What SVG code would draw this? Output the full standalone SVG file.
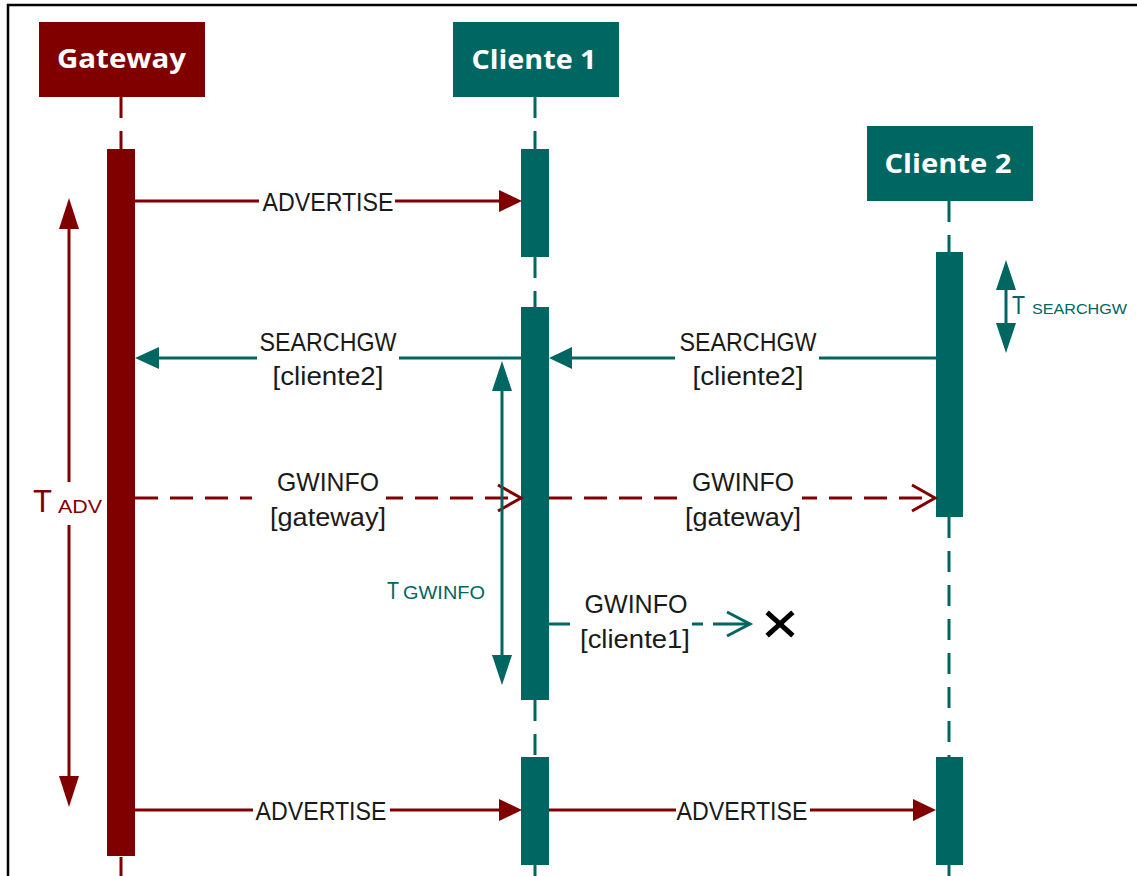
<svg xmlns="http://www.w3.org/2000/svg" width="1137" height="876" viewBox="0 0 1137 876">
  <style>
    .frame { fill: #ffffff; stroke: #000000; stroke-width: 2.5; }
    .head-red { fill: #800000; }
    .head-teal { fill: #006662; }
    .head-text { font-family: "Open Sans", "Liberation Sans", sans-serif; font-weight: 700; font-size: 27px; fill: #ffffff; text-anchor: middle; }
    .life-red { stroke: #800000; stroke-width: 3; stroke-dasharray: 21 13; fill: none; }
    .life-teal { stroke: #006662; stroke-width: 3; stroke-dasharray: 21 13; fill: none; }
    .bar-red { fill: #800000; }
    .bar-teal { fill: #006662; }
    .msg-red { stroke: #800000; stroke-width: 3; fill: none; }
    .msg-teal { stroke: #006662; stroke-width: 3; fill: none; }
    .dash-red { stroke: #800000; stroke-width: 3; fill: none; stroke-dasharray: 23 12; }
    .fill-red { fill: #800000; }
    .fill-teal { fill: #006662; }
    .label { font-family: "Liberation Sans", Arial, sans-serif; font-size: 26px; fill: #1a1a1a; text-anchor: middle; }
    .gap { fill: #ffffff; }
    .tred { font-family: "Liberation Sans", Arial, sans-serif; fill: #800000; }
    .tteal { font-family: "Liberation Sans", Arial, sans-serif; fill: #006662; }
  </style>

  <!-- page frame -->
  <rect class="frame" x="8" y="5" width="1140" height="880"/>

  <!-- lifelines (dashed sections between activation bars) -->
  <g id="lifelines">
    <line class="life-red" x1="121" y1="97" x2="121" y2="149"/>
    <line class="life-red" x1="121" y1="857" x2="121" y2="880"/>
    <line class="life-teal" x1="535" y1="97" x2="535" y2="149"/>
    <line class="life-teal" x1="535" y1="257" x2="535" y2="307"/>
    <line class="life-teal" x1="535" y1="700" x2="535" y2="757"/>
    <line class="life-teal" x1="535" y1="865" x2="535" y2="880"/>
    <line class="life-teal" x1="949" y1="201" x2="949" y2="252"/>
    <line class="life-teal" x1="949" y1="517" x2="949" y2="757"/>
    <line class="life-teal" x1="949" y1="865" x2="949" y2="880"/>
  </g>

  <!-- Gateway participant -->
  <g id="gateway">
    <rect class="head-red" x="39" y="22" width="166" height="75"/>
    <text class="head-text" x="121.5" y="68" textLength="129" lengthAdjust="spacingAndGlyphs">Gateway</text>
    <rect class="bar-red" x="107" y="149" width="28" height="707"/>
  </g>

  <!-- Cliente 1 participant -->
  <g id="cliente1">
    <rect class="head-teal" x="453" y="22" width="166" height="75"/>
    <text class="head-text" x="534" y="69" textLength="125" lengthAdjust="spacingAndGlyphs">Cliente 1</text>
    <rect class="bar-teal" x="521" y="149" width="28" height="108"/>
    <rect class="bar-teal" x="521" y="307" width="28" height="393"/>
    <rect class="bar-teal" x="521" y="757" width="28" height="108"/>
  </g>

  <!-- Cliente 2 participant -->
  <g id="cliente2">
    <rect class="head-teal" x="867" y="126" width="166" height="75"/>
    <text class="head-text" x="948" y="173" textLength="127" lengthAdjust="spacingAndGlyphs">Cliente 2</text>
    <rect class="bar-teal" x="936" y="252" width="27" height="265"/>
    <rect class="bar-teal" x="936" y="757" width="27" height="108"/>
  </g>

  <!-- messages -->
  <g id="connectors">
    <!-- ADVERTISE gateway -> cliente 1 -->
    <line class="msg-red" x1="135" y1="201" x2="501" y2="201"/>
    <polygon class="fill-red" points="499,190 522,201 499,212"/>
    <rect class="gap" x="259" y="188" width="136" height="28"/>
    <text class="label" x="328" y="211" textLength="131" lengthAdjust="spacingAndGlyphs">ADVERTISE</text>

    <!-- SEARCHGW cliente 1 -> gateway -->
    <line class="msg-teal" x1="521" y1="358" x2="156" y2="358"/>
    <polygon class="fill-teal" points="135,358 159,347 159,369"/>
    <rect class="gap" x="257" y="328" width="142" height="64"/>
    <text class="label" x="328" y="351" textLength="137" lengthAdjust="spacingAndGlyphs">SEARCHGW</text>
    <text class="label" x="328" y="385" textLength="111" lengthAdjust="spacingAndGlyphs">[cliente2]</text>

    <!-- SEARCHGW cliente 2 -> cliente 1 -->
    <line class="msg-teal" x1="936" y1="358" x2="570" y2="358"/>
    <polygon class="fill-teal" points="549,358 572,347 572,369"/>
    <rect class="gap" x="675" y="328" width="144" height="64"/>
    <text class="label" x="748" y="351" textLength="137" lengthAdjust="spacingAndGlyphs">SEARCHGW</text>
    <text class="label" x="748" y="385" textLength="111" lengthAdjust="spacingAndGlyphs">[cliente2]</text>

    <!-- GWINFO gateway -> cliente 1 (dashed, open head) -->
    <line class="dash-red" x1="135" y1="498" x2="520" y2="498"/>
    <polyline class="msg-red" points="498,485 521,498 498,511"/>
    <rect class="gap" x="252" y="466" width="134" height="66"/>
    <text class="label" x="328" y="491" textLength="102" lengthAdjust="spacingAndGlyphs">GWINFO</text>
    <text class="label" x="328" y="526" textLength="116" lengthAdjust="spacingAndGlyphs">[gateway]</text>

    <!-- GWINFO cliente 1 -> cliente 2 (dashed, open head) -->
    <line class="dash-red" x1="549" y1="498" x2="933" y2="498"/>
    <polyline class="msg-red" points="912,485 935,498 912,511"/>
    <rect class="gap" x="680" y="466" width="122" height="66"/>
    <text class="label" x="743" y="491" textLength="102" lengthAdjust="spacingAndGlyphs">GWINFO</text>
    <text class="label" x="743" y="526" textLength="116" lengthAdjust="spacingAndGlyphs">[gateway]</text>

    <!-- GWINFO cliente 1 broadcast, lost -->
    <line class="msg-teal" x1="549" y1="624" x2="570" y2="624"/>
    <line class="msg-teal" x1="692" y1="624" x2="703" y2="624"/>
    <line class="msg-teal" x1="713" y1="624" x2="748" y2="624"/>
    <polyline class="msg-teal" points="727,612 750,624 727,636"/>
    <text class="label" x="636" y="613" textLength="103" lengthAdjust="spacingAndGlyphs">GWINFO</text>
    <text class="label" x="635" y="648" textLength="110" lengthAdjust="spacingAndGlyphs">[cliente1]</text>
    <g stroke="#000000" stroke-width="5" stroke-linecap="square">
      <line x1="769" y1="614" x2="791" y2="634"/>
      <line x1="791" y1="614" x2="769" y2="634"/>
    </g>

    <!-- ADVERTISE gateway -> cliente 1 (second round) -->
    <line class="msg-red" x1="135" y1="810" x2="501" y2="810"/>
    <polygon class="fill-red" points="499,799 522,810 499,821"/>
    <rect class="gap" x="253" y="797" width="137" height="28"/>
    <text class="label" x="321" y="820" textLength="131" lengthAdjust="spacingAndGlyphs">ADVERTISE</text>

    <!-- ADVERTISE cliente 1 -> cliente 2 -->
    <line class="msg-red" x1="549" y1="810" x2="914" y2="810"/>
    <polygon class="fill-red" points="913,799 936,810 913,821"/>
    <rect class="gap" x="676" y="797" width="134" height="28"/>
    <text class="label" x="742" y="820" textLength="131" lengthAdjust="spacingAndGlyphs">ADVERTISE</text>
  </g>

  <!-- timers -->
  <g id="timer-adv">
    <line class="msg-red" x1="69" y1="228" x2="69" y2="482"/>
    <line class="msg-red" x1="69" y1="525" x2="69" y2="777"/>
    <polygon class="fill-red" points="69,198 79,229 59,229"/>
    <polygon class="fill-red" points="69,807 79,776 59,776"/>
    <text class="tred" x="33" y="512" font-size="31" textLength="19" lengthAdjust="spacingAndGlyphs">T</text>
    <text class="tred" x="58" y="513" font-size="19" textLength="44" lengthAdjust="spacingAndGlyphs">ADV</text>
  </g>

  <g id="timer-gwinfo">
    <line class="msg-teal" x1="502" y1="388" x2="502" y2="658"/>
    <polygon class="fill-teal" points="502,361 512,391 492,391"/>
    <polygon class="fill-teal" points="502,685 512,655 492,655"/>
    <text class="tteal" x="387" y="599" font-size="23" textLength="12" lengthAdjust="spacingAndGlyphs">T</text>
    <text class="tteal" x="403" y="599" font-size="19" textLength="82" lengthAdjust="spacingAndGlyphs">GWINFO</text>
  </g>

  <g id="timer-searchgw">
    <line class="msg-teal" x1="1006" y1="288" x2="1006" y2="325"/>
    <polygon class="fill-teal" points="1006,260 1016,290 996,290"/>
    <polygon class="fill-teal" points="1006,353 1016,323 996,323"/>
    <text class="tteal" x="1012" y="314" font-size="25" textLength="13" lengthAdjust="spacingAndGlyphs">T</text>
    <text class="tteal" x="1032" y="314" font-size="15.5" textLength="95" lengthAdjust="spacingAndGlyphs">SEARCHGW</text>
  </g>
</svg>
